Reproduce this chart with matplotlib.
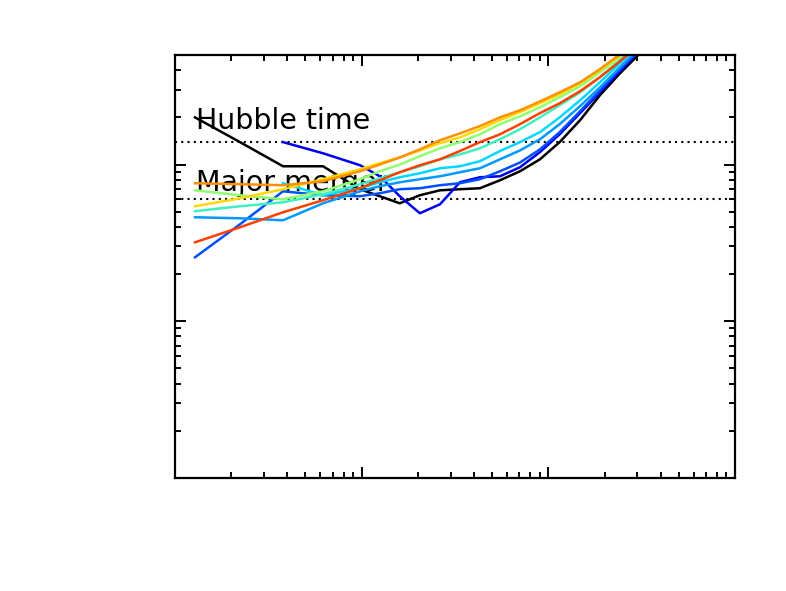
import numpy as np
import matplotlib
matplotlib.use('Agg')
from matplotlib import pyplot as plt
from matplotlib.ticker import NullFormatter, LogLocator

nan = np.nan

# common x grid shared by all curves
x = [1.28, 2.23, 3.79, 6.21, 9.80, 12.5, 16.0, 20.5, 26.3, 33.6,
     43.0, 55.1, 70.5, 90.2, 115, 148, 189, 242, 310, 397]

t_black = [20.0, 13.9, 9.75, 9.75, 6.96, 6.28, 5.66, 6.37, 6.85, 6.96,
           7.06, 7.94, 9.06, 10.8, 13.9, 19.2, 27.7, 38.2, 51.3, 69.9]
t_darkblue = [nan, nan, 13.9, 11.8, 9.90, 8.42, 6.28, 4.89, 5.58, 7.71,
              8.30, 8.42, 9.61, 12.0, 15.6, 21.3, 28.9, 39.4, 53.6, 73.0]
t_blue = [2.56, 4.16, 6.75, 6.37, 6.28, 6.56, 6.96, 7.06, 7.38, 7.60,
          8.06, 9.06, 10.3, 12.5, 16.1, 21.9, 29.8, 40.6, 54.4, 74.1]
t_dodger = [4.61, 4.54, 4.41, 5.66, 6.75, 7.27, 7.71, 8.06, 8.42, 8.93,
            9.47, 10.8, 12.3, 14.5, 18.1, 23.6, 31.1, 41.8, 56.0, 75.2]
t_cyan = [nan, nan, 7.60, 6.37, 7.06, 7.71, 8.30, 8.80, 9.47, 9.75,
          10.5, 12.2, 13.9, 16.1, 20.0, 25.7, 33.5, 44.3, 58.6, 78.6]
t_aqua = [5.04, 5.42, 5.74, 6.46, 7.49, 8.18, 8.93, 9.75, 10.8, 11.6,
          12.7, 14.5, 16.8, 20.0, 23.9, 28.9, 36.1, 46.3, 60.3, 78.6]
t_green = [6.85, 6.37, 6.00, 6.75, 8.06, 9.06, 10.0, 11.3, 12.7, 13.9,
           15.6, 18.1, 20.3, 23.2, 26.9, 31.6, 38.8, 48.4, 62.1, 79.7]
t_yellow = [5.42, 6.09, 6.96, 8.06, 9.33, 10.2, 11.1, 12.3, 13.7, 14.9,
            16.8, 19.2, 21.6, 24.6, 28.1, 33.0, 40.0, 49.8, 63.0, 79.7]
t_orange = [7.60, 7.49, 7.38, 7.82, 9.06, 10.0, 11.1, 12.5, 14.3, 15.8,
            17.6, 20.0, 22.2, 25.3, 28.9, 33.5, 40.6, 50.6, 64.9, 82.1]
t_red = [3.19, 3.98, 4.96, 5.92, 7.06, 7.94, 8.93, 9.90, 10.8, 12.2,
         13.9, 15.6, 18.1, 21.3, 24.6, 29.4, 36.1, 45.6, 58.6, 76.3]

t_hubble = 13.9
t_major = 6.0
labels = ['Hubble time', 'Major merger']

curves = [t_black, t_darkblue, t_blue, t_dodger, t_cyan, t_aqua,
          t_green, t_yellow, t_orange, t_red]
colors = ['black', '#0000f0', '#0050ff', '#0099ff', '#00d8ff', '#40f0c0',
          '#90ff70', '#ffd800', '#ff9000', '#ff4000']

fig = plt.figure(figsize=(7.86, 5.91), dpi=100)
ax = fig.add_axes([175/786, 1 - 478/591, 560/786, 423/591])
ax.set_xscale('log')
ax.set_yscale('log')
ax.set_xlim(1, 1000)
ax.set_ylim(0.1, 50)

# reference timescales
ax.axhline(t_hubble, color='black', lw=1.5, ls=(0, (1, 2)), zorder=1)
ax.axhline(t_major, color='black', lw=1.5, ls=(0, (1, 2)), zorder=1)
ax.text(1.3, 16.8, labels[0], fontsize=20.5, va='baseline', zorder=1)
ax.text(1.3, 6.75, labels[1], fontsize=20.5, va='baseline', zorder=1)

for t, c in zip(curves, colors):
    ax.plot(x, t, color=c, lw=1.8, zorder=2)

ax.xaxis.set_minor_locator(LogLocator(base=10, subs=np.arange(2, 10)))
ax.yaxis.set_minor_locator(LogLocator(base=10, subs=np.arange(2, 10)))
ax.xaxis.set_major_formatter(NullFormatter())
ax.xaxis.set_minor_formatter(NullFormatter())
ax.yaxis.set_major_formatter(NullFormatter())
ax.yaxis.set_minor_formatter(NullFormatter())
ax.tick_params(which='both', direction='in', top=True, right=True, width=1.4)
ax.tick_params(which='major', length=8)
ax.tick_params(which='minor', length=4.5)
for s in ax.spines.values():
    s.set_linewidth(1.6)

fig.savefig('out.png', dpi=100)
